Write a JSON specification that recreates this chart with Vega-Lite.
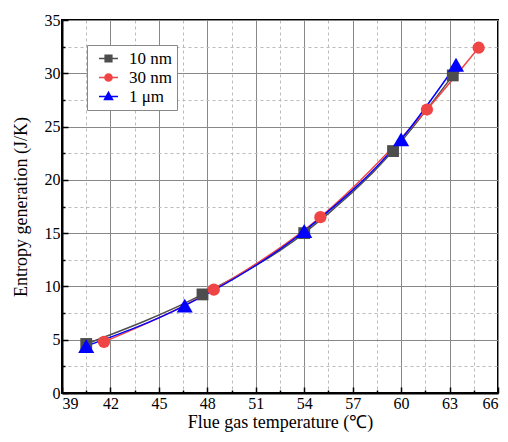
{
  "$schema": "https://vega.github.io/schema/vega-lite/v6.json",
  "width": 436,
  "height": 373,
  "autosize": "none",
  "padding": {"left": 62, "top": 20, "right": 10, "bottom": 49},
  "background": "white",
  "config": {
    "font": "Liberation Serif",
    "view": {"stroke": "black", "strokeWidth": 2},
    "axis": {
      "domainColor": "black",
      "domainWidth": 2,
      "tickColor": "black",
      "tickWidth": 1.5,
      "labelFont": "Liberation Serif",
      "labelFontSize": 16,
      "labelColor": "black",
      "titleFont": "Liberation Serif",
      "titleFontSize": 18,
      "titleFontWeight": "normal",
      "titleColor": "black"
    },
    "legend": {"labelFont": "Liberation Serif"}
  },
  "data": {
    "values": [
      {"series": "10 nm", "x": 40.5, "y": 4.6},
      {"series": "10 nm", "x": 47.7, "y": 9.25},
      {"series": "10 nm", "x": 54.0, "y": 15.0},
      {"series": "10 nm", "x": 59.5, "y": 22.7},
      {"series": "10 nm", "x": 63.2, "y": 29.8},
      {"series": "30 nm", "x": 41.6, "y": 4.8},
      {"series": "30 nm", "x": 48.4, "y": 9.7},
      {"series": "30 nm", "x": 55.0, "y": 16.5},
      {"series": "30 nm", "x": 61.6, "y": 26.6},
      {"series": "30 nm", "x": 64.8, "y": 32.4},
      {"series": "1 μm", "x": 40.5, "y": 4.4},
      {"series": "1 μm", "x": 46.6, "y": 8.2},
      {"series": "1 μm", "x": 54.0, "y": 15.2},
      {"series": "1 μm", "x": 60.0, "y": 23.8},
      {"series": "1 μm", "x": 63.4, "y": 30.8}
    ]
  },
  "layer": [
    {
      "mark": {"type": "point", "opacity": 0},
      "encoding": {
        "x": {"field": "x", "type": "quantitative", "scale": {"domain": [39, 66], "nice": false, "zero": false},
          "axis": {"orient": "bottom", "values": [40.5, 43.5, 46.5, 49.5, 52.5, 55.5, 58.5, 61.5, 64.5], "labels": false, "title": null, "domain": false, "tickSize": -3, "grid": true, "gridColor": "#bbbbbb", "gridDash": [3, 3], "gridWidth": 1}},
        "y": {"field": "y", "type": "quantitative", "scale": {"domain": [0, 35], "nice": false},
          "axis": {"orient": "left", "values": [2.5, 7.5, 12.5, 17.5, 22.5, 27.5, 32.5], "labels": false, "title": null, "domain": false, "tickSize": -3, "grid": true, "gridColor": "#bbbbbb", "gridDash": [3, 3], "gridWidth": 1}}
      }
    },
    {
      "mark": {"type": "line", "interpolate": "monotone", "strokeWidth": 1.5},
      "encoding": {
        "x": {"field": "x", "type": "quantitative",
          "axis": {"orient": "bottom", "values": [39, 42, 45, 48, 51, 54, 57, 60, 63, 66], "title": "Flue gas temperature (℃)", "labelFont": "Liberation Serif", "titleFont": "Liberation Serif", "tickSize": -6, "labelPadding": 8, "titlePadding": 2, "grid": true, "gridColor": "#888888", "gridWidth": 1}},
        "y": {"field": "y", "type": "quantitative",
          "axis": {"orient": "left", "values": [0, 5, 10, 15, 20, 25, 30, 35], "title": "Entropy generation (J/K)", "labelFont": "Liberation Serif", "titleFont": "Liberation Serif", "tickSize": -6, "labelPadding": 8, "titlePadding": 14, "grid": true, "gridColor": "#888888", "gridWidth": 1}},
        "color": {"field": "series", "type": "nominal", "scale": {"domain": ["10 nm", "30 nm", "1 μm"], "range": ["#4d4d4d", "#f04545", "#0000ff"]}, "legend": null}
      }
    },
    {
      "transform": [{"filter": "datum.series === '10 nm'"}],
      "mark": {"type": "square", "filled": true, "opacity": 1, "color": "#4d4d4d", "size": 140},
      "encoding": {
        "x": {"field": "x", "type": "quantitative", "axis": null},
        "y": {"field": "y", "type": "quantitative", "axis": null}
      }
    },
    {
      "transform": [{"filter": "datum.series === '30 nm'"}],
      "mark": {"type": "circle", "filled": true, "opacity": 1, "color": "#f04545", "size": 150},
      "encoding": {
        "x": {"field": "x", "type": "quantitative", "axis": null},
        "y": {"field": "y", "type": "quantitative", "axis": null}
      }
    },
    {
      "transform": [{"filter": "datum.series === '1 μm'"}],
      "mark": {"type": "point", "shape": "triangle-up", "filled": true, "opacity": 1, "color": "#0000ff", "size": 260},
      "encoding": {
        "x": {"field": "x", "type": "quantitative", "axis": null},
        "y": {"field": "y", "type": "quantitative", "axis": null}
      }
    },
    {
      "transform": [{"filter": "false"}],
      "mark": {"type": "point", "filled": false, "opacity": 1, "size": 324, "strokeWidth": 1.5},
      "encoding": {
        "fill": {"field": "series", "type": "nominal", "scale": {"domain": ["10 nm", "30 nm", "1 μm"], "range": ["#4d4d4d", "#f04545", "#0000ff"]},
          "legend": {"orient": "top-left", "offset": 25, "title": null, "fillColor": "white", "strokeColor": "#888888", "padding": 5, "symbolOffset": 8, "labelOffset": 12, "labelFont": "Liberation Serif", "labelFontSize": 17, "labelColor": "black", "rowPadding": 1, "symbolStrokeWidth": 1.5}},
        "stroke": {"field": "series", "type": "nominal", "scale": {"domain": ["10 nm", "30 nm", "1 μm"], "range": ["#4d4d4d", "#f04545", "#0000ff"]},
          "legend": {"orient": "top-left", "offset": 25, "title": null, "fillColor": "white", "strokeColor": "#888888", "padding": 5, "symbolOffset": 8, "labelOffset": 12, "labelFont": "Liberation Serif", "labelFontSize": 17, "labelColor": "black", "rowPadding": 1, "symbolStrokeWidth": 1.5}},
        "shape": {"field": "series", "type": "nominal", "scale": {"domain": ["10 nm", "30 nm", "1 μm"], "range": [
          "M-1.9,0H1.9M-0.67,-0.67H0.67V0.67H-0.67Z",
          "M-1.9,0H1.9M-0.72,0A0.72,0.72,0,1,0,0.72,0A0.72,0.72,0,1,0,-0.72,0Z",
          "M-1.9,0H1.9M0,-0.85L0.8,0.6H-0.8Z"
        ]},
          "legend": {"orient": "top-left", "offset": 25, "title": null, "fillColor": "white", "strokeColor": "#888888", "padding": 5, "symbolOffset": 8, "labelOffset": 12, "labelFont": "Liberation Serif", "labelFontSize": 17, "labelColor": "black", "rowPadding": 1, "symbolStrokeWidth": 1.5}}
      }
    }
  ],
  "resolve": {
    "axis": {"x": "independent", "y": "independent"},
    "scale": {"shape": "independent", "color": "independent", "fill": "independent", "stroke": "independent"}
  }
}
